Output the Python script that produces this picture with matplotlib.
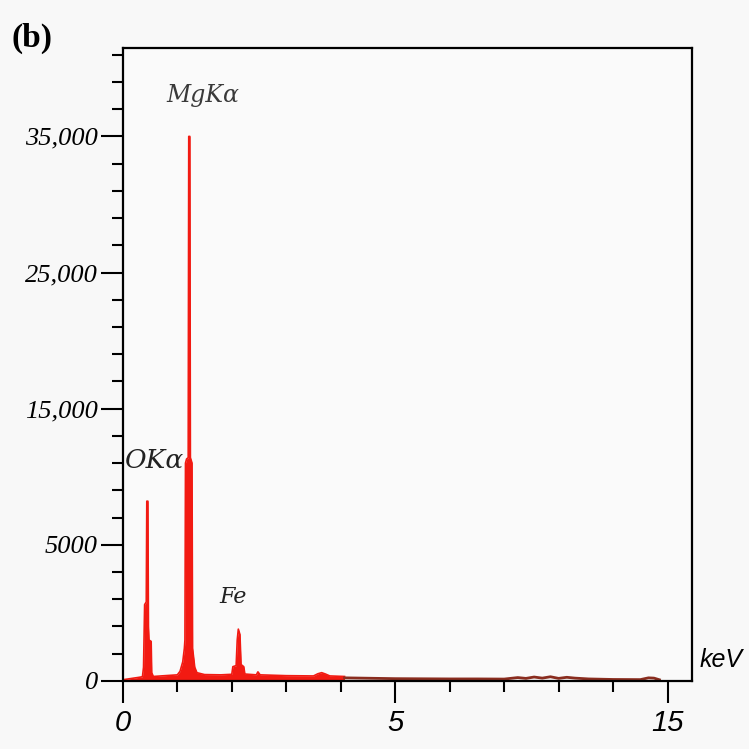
import matplotlib
matplotlib.use("Agg")
import matplotlib.pyplot as plt
import numpy as np

# EDS spectrum (energy in keV, counts)
energy = [0.00, 0.10, 0.20, 0.30, 0.36, 0.38, 0.40, 0.43, 0.44, 0.46, 0.47, 0.48,
          0.52, 0.53, 0.56, 0.70, 0.85, 1.00, 1.05, 1.10, 1.13, 1.14, 1.15, 1.17,
          1.20, 1.21, 1.23, 1.24, 1.27, 1.28, 1.32, 1.36, 1.50, 1.80, 2.00, 2.02,
          2.08, 2.10, 2.12, 2.15, 2.17, 2.22, 2.24, 2.45, 2.48, 2.52, 3.00, 3.50,
          3.58, 3.65, 3.72, 3.80, 4.07]
counts = [40, 70, 100, 130, 150, 500, 2800, 2900, 8200, 8200, 2000, 1500,
          1450, 300, 160, 180, 200, 220, 350, 700, 1200, 1500, 11000, 11300,
          11400, 35000, 35000, 11400, 11000, 1200, 500, 300, 230, 220, 240, 520,
          560, 1500, 1900, 1700, 600, 520, 250, 220, 330, 220, 190, 180,
          260, 300, 250, 180, 160]

# low, dark tail of the spectrum
tail_energy = [4.07, 5.0, 6.0, 7.0, 8.0, 9.0, 9.5, 9.8, 10.1, 10.4, 10.7, 11.0,
               11.3, 11.6, 12.1, 13.0, 14.0, 14.3, 14.5, 14.7]
tail_counts = [110, 80, 75, 70, 70, 65, 120, 90, 140, 100, 150, 90,
               130, 100, 70, 50, 45, 110, 100, 40]

x_minor = [0, 1, 2, 3, 4, 5, 7, 9, 11, 13, 15]
x_major = [0, 5, 15]
x_labels = ["0", "5", "15"]
y_minor = [0, 1000, 2000, 3000, 4000, 5000] + list(range(7000, 42000, 2000))
y_major = [0, 5000, 15000, 25000, 35000]
y_labels = ["0", "5000", "15,000", "25,000", "35,000"]


def xfwd(x):
    x = np.asarray(x, dtype=float)
    return np.where(x <= 5, x, 5 + (x - 5) / 2)


def xinv(u):
    u = np.asarray(u, dtype=float)
    return np.where(u <= 5, u, 5 + (u - 5) * 2)


def yfwd(y):
    y = np.asarray(y, dtype=float)
    return np.where(y <= 5000, y / 1000, 5 + (y - 5000) / 2000)


def yinv(u):
    u = np.asarray(u, dtype=float)
    return np.where(u <= 5, u * 1000, 5000 + (u - 5) * 2000)


fig = plt.figure(figsize=(7.49, 7.49), dpi=100, facecolor="#f8f8f8")
ax = fig.add_axes([0.164, 0.091, 0.760, 0.845], facecolor="#fafafa")
ax.set_xscale("function", functions=(xfwd, xinv))
ax.set_yscale("function", functions=(yfwd, yinv))

ax.fill_between(energy, 0, counts, color="#f21a12", lw=0)
ax.plot(energy, counts, color="#f21a12", lw=1.2)
ax.plot(tail_energy, tail_counts, color="#8a2d1f", lw=2)

ax.set_xlim(0, 15.9)
ax.set_ylim(0, 41500)

ax.set_xticks(x_major)
ax.set_xticklabels(x_labels)
ax.set_xticks(x_minor, minor=True)
ax.set_yticks(y_major)
ax.set_yticklabels(y_labels)
ax.set_yticks(y_minor, minor=True)

for s in ax.spines.values():
    s.set_linewidth(1.6)
ax.tick_params(which="major", length=16, width=1.5, pad=2)
ax.tick_params(which="minor", length=8, width=1.5)
ax.tick_params(axis="x", which="major", pad=4)

for lab in ax.get_yticklabels():
    lab.set_fontfamily("Liberation Serif")
    lab.set_fontstyle("italic")
    lab.set_fontsize(19)
for lab in ax.get_xticklabels():
    lab.set_fontfamily("Liberation Sans")
    lab.set_fontstyle("italic")
    lab.set_fontsize(21)

ax.text(1.47, 38000, "MgK\u03b1", ha="center", va="center", fontsize=17,
        family="DejaVu Serif", style="italic", color="#3a3a3a")
ax.text(0.04, 11200, "OK\u03b1", ha="left", va="center", fontsize=19,
        family="DejaVu Serif", style="italic", color="#222222")
ax.text(1.78, 3090, "Fe", ha="left", va="center", fontsize=16,
        family="DejaVu Serif", style="italic", color="#222222")
ax.text(1.014, 0.033, "keV", transform=ax.transAxes, ha="left", va="center",
        fontsize=18, family="Liberation Sans", style="italic")
fig.text(0.016, 0.949, "(b)", ha="left", va="center", fontsize=24,
         family="Liberation Serif", weight="bold")

fig.savefig("out.png", dpi=100, facecolor=fig.get_facecolor())
